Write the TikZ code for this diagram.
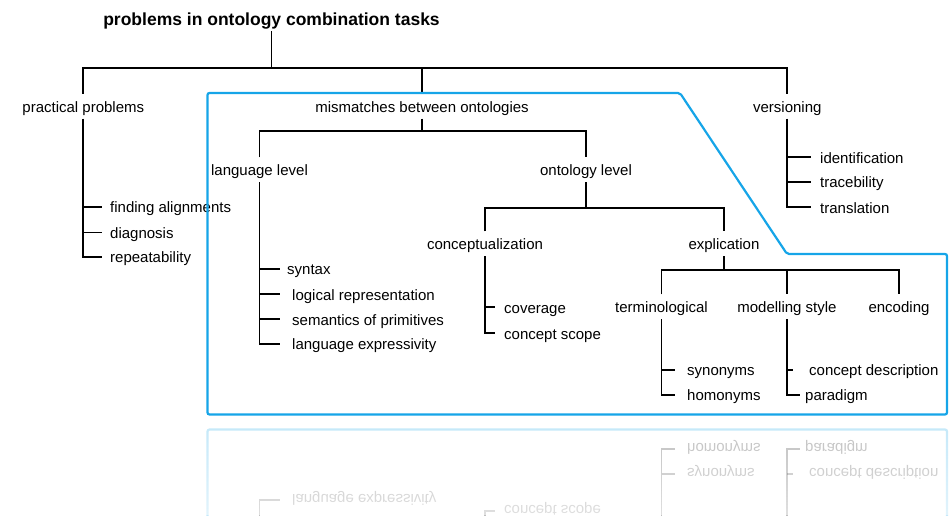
\documentclass[tikz,border=0pt]{standalone}
\usepackage{fontspec}
\setmainfont{Liberation Sans}
\usetikzlibrary{fadings}
\definecolor{boxblue}{RGB}{22,165,232}
\tikzset{
  lbl/.style={font=\fontsize{15}{18}\selectfont, inner ysep=3pt, inner xsep=0pt,
    text height=15pt, text depth=3.5pt, anchor=base},
  leaf/.style={lbl, anchor=base west, inner xsep=#1},
  leaf/.default=8pt,
  ttl/.style={font=\bfseries\fontsize{17.5}{20}\selectfont, inner sep=0pt,
    text depth=6pt, anchor=base},
  conn/.style={line width=1.8pt, line join=miter},
  bluebox/.style={draw=boxblue, line width=2.2pt, rounded corners=2pt}
}
% lower leaves, shared by the diagram and its reflection
\newcommand\lowerleaves{%
  \node[leaf=12pt] (la4) at (280,349.5) {language expressivity};
  \node[leaf=9pt] (co2) at (495,339) {concept scope};
  \node[leaf=12pt] (te1) at (675,375.5) {synonyms};
  \node[leaf=12pt] (te2) at (675,400.5) {homonyms};
  \node[leaf=16pt] (mo1) at (793,375.5) {concept description};
  \node[leaf=5pt] (mo2) at (800,400.5) {paradigm};
}
\newcommand\ontdiagram{%
  \node[ttl] (title) at (271.5,25) {problems in ontology combination tasks};
  \node[lbl] (prac) at (83.3,112) {practical problems};
  \node[lbl] (mism) at (422,112) {mismatches between ontologies};
  \node[lbl] (vers) at (787.3,112) {versioning};
  \node[lbl] (lang) at (259.5,175.5) {language level};
  \node[lbl] (ontl) at (586,175.5) {ontology level};
  \node[lbl] (conc) at (485,249.5) {conceptualization};
  \node[lbl] (expl) at (724,249.5) {explication};
  \node[lbl] (term) at (661.5,312.5) {terminological};
  \node[lbl] (mods) at (787,312.5) {modelling style};
  \node[lbl] (enc) at (899,312.5) {encoding};
  \coordinate (bar) at (271.5,68);
  \coordinate (mbar) at (422,131);
  \coordinate (obar) at (586,208);
  \coordinate (ebar) at (724,270);
  % leaves
  \node[leaf] (pa1) at (102,212.8) {finding alignments};
  \node[leaf] (pa2) at (102,238.2) {diagnosis};
  \node[leaf] (pa3) at (102,262.5) {repeatability};
  \node[leaf=9pt] (ve1) at (811,163) {identification};
  \node[leaf=9pt] (ve2) at (811,187.5) {tracebility};
  \node[leaf=9pt] (ve3) at (811,213) {translation};
  \node[leaf=7pt] (la1) at (280,274.5) {syntax};
  \node[leaf=12pt] (la2) at (280,300) {logical representation};
  \node[leaf=12pt] (la3) at (280,325) {semantics of primitives};
  \node[leaf=9pt] (co1) at (495,313) {coverage};
  \lowerleaves
  % tree connectors
  \draw[conn] (title.south) -- (bar);
  \draw[conn] (prac.north) |- (bar) -| (vers.north);
  \draw[conn] (bar -| mism.north) -- (mism.north);
  \draw[conn] (mism.south) -- (mbar);
  \draw[conn] (lang.north) |- (mbar) -| (ontl.north);
  \draw[conn] (ontl.south) -- (obar);
  \draw[conn] (conc.north) |- (obar) -| (expl.north);
  \draw[conn] (expl.south) -- (ebar);
  \draw[conn] (term.north) |- (ebar) -| (enc.north);
  \draw[conn] (ebar -| mods.north) -- (mods.north);
  % leaf connectors
  \draw[conn] (prac.south) |- (pa3.west);
  \draw[conn] (prac.south |- pa1.west) -- (pa1.west);
  \draw[conn] (prac.south |- pa2.west) -- (pa2.west);
  \draw[conn] (vers.south) |- (ve3.west);
  \draw[conn] (vers.south |- ve1.west) -- (ve1.west);
  \draw[conn] (vers.south |- ve2.west) -- (ve2.west);
  \draw[conn] (lang.south) |- (la4.west);
  \draw[conn] (lang.south |- la1.west) -- (la1.west);
  \draw[conn] (lang.south |- la2.west) -- (la2.west);
  \draw[conn] (lang.south |- la3.west) -- (la3.west);
  \draw[conn] (conc.south) |- (co2.west);
  \draw[conn] (conc.south |- co1.west) -- (co1.west);
  \draw[conn] (term.south) |- (te2.west);
  \draw[conn] (term.south |- te1.west) -- (te1.west);
  \draw[conn] (mods.south) |- (mo2.west);
  \draw[conn] (mods.south |- mo1.west) -- (mo1.west);
  % blue outline
  \draw[bluebox] (207.5,93) -- (680,93) -- (787,254) -- (947,254)
    -- (947,414.5) -- (207.5,414.5) -- cycle;
}
% the part that shows in the faded mirror image
\newcommand\reflpart{%
  \lowerleaves
  \coordinate (lv) at (259.5,328);
  \coordinate (cv) at (485,328);
  \coordinate (tv) at (661.5,328);
  \coordinate (mv) at (787,328);
  \coordinate (bl) at (207.5,328);
  \coordinate (br) at (947,328);
  \draw[conn] (lv) |- (la4.west);
  \draw[conn] (cv) |- (co2.west);
  \draw[conn] (tv) |- (te2.west);
  \draw[conn] (tv |- te1.west) -- (te1.west);
  \draw[conn] (mv) |- (mo2.west);
  \draw[conn] (mv |- mo1.west) -- (mo1.west);
  \draw[bluebox] (bl) -- (207.5,414.5) -- (947,414.5) -- (br);
}
\begin{document}
\begin{tikzpicture}[x=1pt,y=-1pt]
  \useasboundingbox (0,0) rectangle (951,515);
  \ontdiagram
  \begin{scope}
    \clip (0,423) rectangle (951,515);
    \begin{scope}[name prefix=r-, yshift=-844pt, yscale=-1, transform shape, opacity=.25]
      \reflpart
    \end{scope}
    \fill[white, path fading=north, fill opacity=.5] (0,423) rectangle (951,515);
  \end{scope}
\end{tikzpicture}
\end{document}
